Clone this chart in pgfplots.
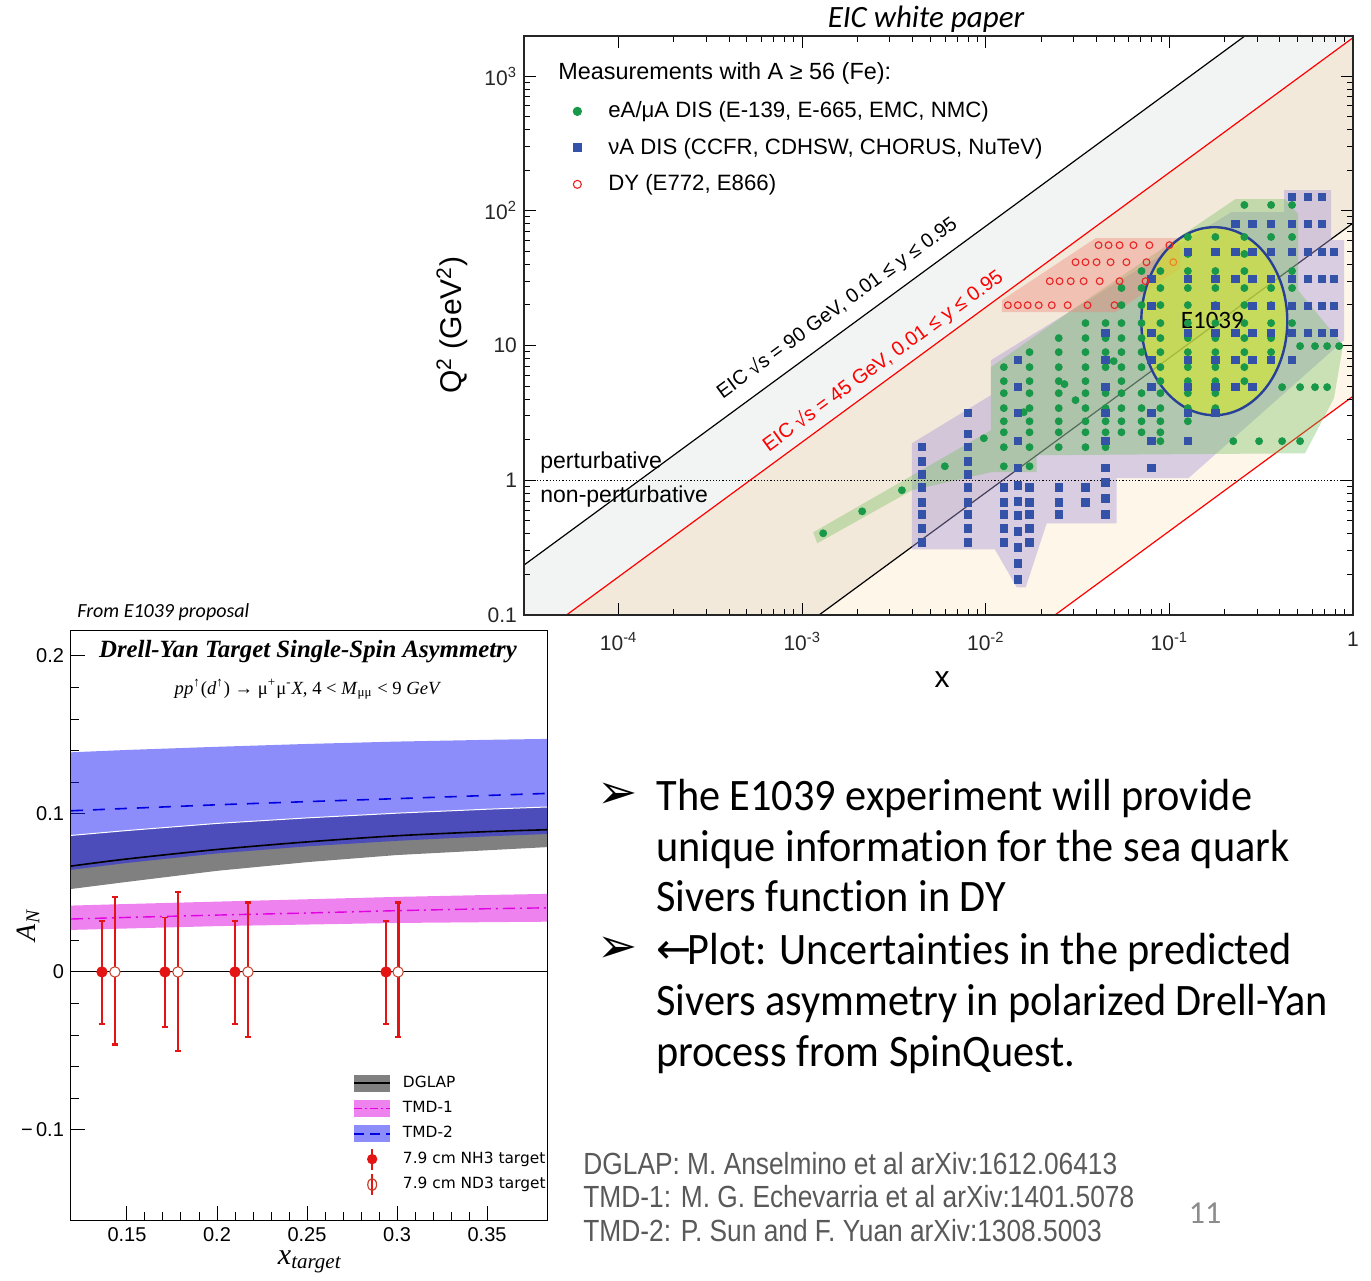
\documentclass[border=0pt]{standalone}
\usepackage{pgfplots}
\pgfplotsset{compat=1.18}
\usepackage{fontspec}
\setmainfont{Liberation Sans}
\newfontfamily\carlito{Carlito}
\newfontfamily\bodyfont[FakeStretch=0.94, Ligatures=NoCommon]{Carlito}
\newfontfamily\reffont[FakeStretch=0.86]{Liberation Sans}
\newfontfamily\serif{Liberation Serif}
\newfontfamily\dejavu{DejaVu Sans}
\newfontfamily\libsans{Liberation Sans}

\definecolor{bggray}{RGB}{242,244,243}
\definecolor{bgbeige}{RGB}{243,233,218}
\definecolor{bgcream}{RGB}{253,246,233}
\definecolor{ptgreen}{RGB}{24,152,72}
\definecolor{ptblue}{RGB}{52,82,168}
\definecolor{ptred}{RGB}{232,36,36}
\definecolor{ptorange}{RGB}{240,130,30}
\definecolor{hullgreen}{RGB}{110,190,90}
\definecolor{hullpurple}{RGB}{165,150,215}
\definecolor{hullred}{RGB}{240,130,120}
\definecolor{ellfill}{RGB}{212,230,40}
\definecolor{elledge}{RGB}{40,65,150}
\definecolor{dglapgray}{RGB}{128,128,128}
\definecolor{tmdtwo}{RGB}{25,25,245}
\definecolor{tmdtwolight}{RGB}{140,140,250}
\definecolor{tmdtwoline}{RGB}{0,0,225}
\definecolor{tmdonefill}{RGB}{238,130,238}
\definecolor{tmdoneline}{RGB}{225,0,225}
\definecolor{errred}{RGB}{228,20,20}
\definecolor{openred}{RGB}{200,60,40}
\definecolor{refgray}{RGB}{89,89,89}
\definecolor{pagegray}{RGB}{140,140,140}

\begin{document}
\begin{tikzpicture}
\useasboundingbox (0,0) rectangle (685.5pt,640pt);

% ================= TOP: x-Q2 coverage =================
\begin{axis}[
  at={(262pt,332.5pt)}, anchor=south west, scale only axis,
  width=414.5pt, height=289.5pt,
  xmode=log, ymode=log,
  xmin=3.05e-5, xmax=1, ymin=0.1, ymax=1982,
  xtick={1e-4,1e-3,1e-2,1e-1,1},
  xticklabels={10\textsuperscript{-4},10\textsuperscript{-3},10\textsuperscript{-2},10\textsuperscript{-1},1},
  ytick={0.1,1,10,100,1000},
  yticklabels={0.1,1,10,10\textsuperscript{2},10\textsuperscript{3}},
  /pgf/number format/assume math mode=true,
  tick label style={font=\fontsize{10.5}{12}\selectfont, text=black!85},
  xticklabel style={yshift=-5pt},
  major tick length=6pt, minor tick length=3pt,
  tick style={black, line width=0.5pt},
  axis line style={line width=0.7pt, black!85},
  axis on top,
  legend style={at={(0.047,0.9008)}, anchor=north west, draw=none, fill=none,
     font=\fontsize{11.1}{13}\selectfont, row sep=4.7pt,
     /tikz/every odd column/.append style={column sep=9.5pt}},
  legend cell align=left,
]
% kinematic bands
\addplot[draw=none, fill=bggray, forget plot] coordinates {(1e-5,0.07695) (3,23085) (3,1e-5) (1e-5,1e-5)};
\addplot[draw=none, fill=bgbeige, forget plot] coordinates {(1e-5,0.01924) (3,5772) (3,1e-5) (1e-5,1e-5)};
\addplot[draw=none, fill=bgcream, forget plot] coordinates {(1e-5,8.1e-4) (3,243) (3,1e-6) (1e-5,1e-6)};
\addplot[draw=none, fill=white, forget plot] coordinates {(1e-5,4.2e-5) (3,12.6) (3,1e-7) (1e-5,1e-7)};
% kinematic lines
\addplot[black, line width=0.6pt, forget plot] coordinates {(1e-5,0.07695) (3,23085)};
\addplot[red, line width=0.6pt, forget plot] coordinates {(1e-5,0.01924) (3,5772)};
\addplot[black, line width=0.6pt, forget plot] coordinates {(1e-5,8.1e-4) (3,243)};
\addplot[red, line width=0.6pt, forget plot] coordinates {(1e-5,4.2e-5) (3,12.6)};
% data hulls
\addplot[draw=none, fill=hullpurple, fill opacity=0.42, forget plot] coordinates {
 (3.96e-3,1.883) (3.96e-3,0.3075) (1.119e-2,0.3075) (1.474e-2,0.1606) (1.650e-2,0.1606)
 (2.145e-2,0.4796) (0.05152,0.4796) (0.05152,1.035) (0.1269,1.035) (0.8935,10.95)
 (0.8935,60.5) (0.7592,60.5) (0.7592,142.2) (0.4217,142.2) (0.4217,97.6) (0.2173,97.6)
 (1.065e-2,7.78) (1.065e-2,4.276)};
\addplot[draw=none, fill=hullgreen, fill opacity=0.36, forget plot] coordinates {
 (1.148e-3,0.411) (1.207e-3,0.3405) (3.96e-3,0.843) (1.065e-2,1.147) (1.893e-2,1.147)
 (1.893e-2,1.533) (0.548,1.586) (0.788,4.06) (0.882,10.05) (0.5026,25.7) (0.5026,94.4)
 (0.4270,121.9) (0.2285,121.9) (0.03324,20.6) (1.065e-2,6.90) (1.065e-2,2.35)};
\addplot[draw=none, fill=hullred, fill opacity=0.38, forget plot] coordinates {
 (1.222e-2,21.7) (1.222e-2,17.67) (0.05087,17.67) (0.1148,37.5) (0.1148,62.6) (0.03961,62.6)};
% Q2 = 1 line
\addplot[black, densely dotted, line width=0.6pt, forget plot] coordinates {(3.05e-5,1) (1,1)};
% eA / muA DIS
\addplot[only marks, mark=*, mark size=1.75pt, color=ptgreen, forget plot] coordinates {
 (1.30e-3,0.404) (2.12e-3,0.588) (3.49e-3,0.843) (5.98e-3,1.27) (9.75e-3,2.05)
 (0.01253,6.91) (0.01253,5.44) (0.01253,4.43) (0.01253,3.43) (0.01253,2.74) (0.01253,2.27) (0.01253,1.76) (0.01253,1.27)
 (0.0173,8.93) (0.0173,6.91) (0.0173,5.44) (0.0173,4.43) (0.0173,3.43) (0.0173,2.74) (0.0173,2.27) (0.0173,1.76) (0.0173,1.27)
 (0.02495,11.35) (0.02495,8.93) (0.02495,6.91) (0.02495,5.44) (0.02495,4.43) (0.02495,3.43) (0.02495,2.74) (0.02495,2.27) (0.02495,1.76)
 (0.0349,14.67) (0.0349,11.35) (0.0349,8.93) (0.0349,6.91) (0.0349,5.44) (0.0349,4.43) (0.0349,3.43) (0.0349,2.74) (0.0349,2.27) (0.0349,1.76)
 (0.0449,14.67) (0.0449,11.35) (0.0449,8.93) (0.0449,6.91) (0.0449,4.43) (0.0449,3.43) (0.0449,2.74) (0.0449,2.27) (0.0449,1.76)
 (0.0548,26.7) (0.0548,19.96) (0.0548,14.67) (0.0548,11.35) (0.0548,8.93) (0.0548,6.91) (0.0548,5.44) (0.0548,4.43) (0.0548,3.43) (0.0548,2.74) (0.0548,2.27)
 (0.0705,35.7) (0.0705,26.7) (0.0705,19.96) (0.0705,14.67) (0.0705,11.35) (0.0705,8.93) (0.0705,6.91) (0.0705,4.43) (0.0705,3.43) (0.0705,2.74) (0.0705,2.27)
 (0.0893,35.7) (0.0893,26.7) (0.0893,19.96) (0.0893,14.67) (0.0893,11.35) (0.0893,8.93) (0.0893,6.91) (0.0893,5.44) (0.0893,4.43) (0.0893,3.43) (0.0893,2.74) (0.0893,2.27) (0.0893,1.95)
 (0.126,63.9) (0.126,47.8) (0.126,35.7) (0.126,26.7) (0.126,19.96) (0.126,14.67) (0.126,11.35) (0.126,8.93) (0.126,6.91) (0.126,5.44) (0.126,4.43) (0.126,3.43) (0.126,2.74)
 (0.178,63.9) (0.178,35.7) (0.178,26.7) (0.178,19.96) (0.178,14.67) (0.178,11.35) (0.178,8.93) (0.178,6.91) (0.178,5.44) (0.178,4.43) (0.178,3.43)
 (0.256,110.4) (0.256,63.9) (0.256,47.8) (0.256,35.7) (0.256,26.7) (0.256,19.96) (0.256,14.67) (0.256,11.35) (0.256,8.93) (0.256,6.91) (0.256,5.44)
 (0.358,110.4) (0.358,63.9) (0.358,26.7) (0.358,19.96) (0.358,14.67) (0.358,11.35) (0.358,8.93)
 (0.4656,110.4) (0.4656,63.9) (0.4656,35.7) (0.4656,26.7) (0.4656,14.67)
 (0.515,9.90) (0.621,9.90) (0.723,9.90) (0.840,9.90) (0.411,4.91) (0.515,4.91) (0.621,4.91) (0.723,4.91)
 (0.2228,1.95) (0.308,1.95) (0.411,1.95) (0.515,1.95)
 (0.01609,3.20) (0.0268,5.17) (0.0308,3.93) (0.0497,7.66)};
% nu A DIS
\addplot[only marks, mark=square*, mark size=1.85pt, color=ptblue, forget plot] coordinates {
 (4.49e-3,1.76) (4.49e-3,1.384) (4.49e-3,1.108) (4.49e-3,0.887) (4.49e-3,0.686) (4.49e-3,0.559) (4.49e-3,0.440) (4.49e-3,0.346)
 (7.98e-3,3.15) (7.98e-3,2.20) (7.98e-3,1.76) (7.98e-3,1.384) (7.98e-3,1.108) (7.98e-3,0.887) (7.98e-3,0.686) (7.98e-3,0.559) (7.98e-3,0.440) (7.98e-3,0.346)
 (0.01253,0.887) (0.01253,0.686) (0.01253,0.559) (0.01253,0.440) (0.01253,0.346)
 (0.01493,7.79) (0.01493,4.91) (0.01493,3.15) (0.01493,1.95) (0.01493,1.23) (0.01493,0.918) (0.01493,0.698) (0.01493,0.55) (0.01493,0.418) (0.01493,0.318) (0.01493,0.2416) (0.01493,0.1838)
 (0.0173,0.887) (0.0173,0.686) (0.0173,0.559) (0.0173,0.440) (0.0173,0.346)
 (0.02495,0.887) (0.02495,0.686) (0.02495,0.559)
 (0.0349,0.887) (0.0349,0.686)
 (0.0449,12.36) (0.0449,7.79) (0.0449,4.91) (0.0449,3.15) (0.0449,1.95) (0.0449,1.23) (0.0449,0.966) (0.0449,0.735) (0.0449,0.559)
 (0.0798,31.1) (0.0798,19.6) (0.0798,12.36) (0.0798,7.79) (0.0798,4.91) (0.0798,3.15) (0.0798,1.95) (0.0798,1.23)
 (0.126,49.4) (0.126,31.1) (0.126,12.36) (0.126,7.79) (0.126,4.91) (0.126,3.15) (0.126,1.95)
 (0.178,49.4) (0.178,31.1) (0.178,19.6) (0.178,12.36) (0.178,7.79) (0.178,4.91) (0.178,3.15)
 (0.2286,79.8) (0.2286,49.4) (0.2286,31.1) (0.2286,12.36) (0.2286,7.79) (0.2286,4.91)
 (0.2825,79.8) (0.2825,49.4) (0.2825,31.1) (0.2825,19.6) (0.2825,12.36) (0.2825,7.79) (0.2825,4.91)
 (0.358,79.8) (0.358,49.4) (0.358,31.1) (0.358,19.6) (0.358,12.36) (0.358,7.79)
 (0.4656,126.7) (0.4656,79.8) (0.4656,49.4) (0.4656,31.1) (0.4656,19.6) (0.4656,12.36) (0.4656,7.79)
 (0.569,126.7) (0.569,79.8) (0.569,49.4) (0.569,31.1) (0.569,19.6) (0.569,12.36)
 (0.679,126.7) (0.679,79.8) (0.679,49.4) (0.679,31.1) (0.679,19.6) (0.679,12.36)
 (0.789,49.4) (0.789,31.1) (0.789,19.6) (0.789,12.36)};
% DY
\addplot[only marks, mark=o, mark size=1.7pt, color=ptred, line width=0.55pt, forget plot] coordinates {
 (0.0411,55.55) (0.0466,55.55) (0.0535,55.55) (0.0637,55.55) (0.0778,55.55) (0.1,55.55)
 (0.0308,41.53) (0.0349,41.53) (0.0401,41.53) (0.0478,41.53) (0.0583,41.53) (0.0750,41.53)
 (0.0223,30.02) (0.0252,30.02) (0.0290,30.02) (0.0341,30.02) (0.0417,30.02) (0.0535,30.02) (0.0741,30.02)
 (0.01318,19.92) (0.01493,19.92) (0.01690,19.92) (0.01941,19.92) (0.02286,19.92) (0.0279,19.92) (0.0358,19.92) (0.0502,19.92)};
\addplot[only marks, mark=o, mark size=1.7pt, color=ptorange, line width=0.55pt, forget plot] coordinates {(0.105,41.53)};
% E1039 ellipse
\draw[elledge, line width=1.2pt, fill=ellfill, fill opacity=0.62] (axis cs:0.1756,15.15) ellipse [x radius=36.5pt, y radius=47pt];
\node[font=\carlito\fontsize{12.5}{14}\selectfont] at (axis cs:0.1713,15.44) {E1039};
% line labels
\node[rotate=36.2, font=\fontsize{10}{12}\selectfont] at (axis cs:1.549e-3,18.92) {EIC √s = 90 GeV, 0.01 ≤ y ≤ 0.95};
\node[rotate=36.2, text=red, font=\fontsize{10}{12}\selectfont] at (axis cs:2.756e-3,7.65) {EIC √s = 45 GeV, 0.01 ≤ y ≤ 0.95};
% legend
\addlegendimage{legend image code/.code={\draw[only marks, mark=*, mark size=2.1pt, color=ptgreen] plot coordinates {(4pt,0pt)}; \path[draw=none, fill=none] (0pt,-3pt) rectangle (8pt,3pt);}}
\addlegendentry{eA/μA DIS (E-139, E-665, EMC, NMC)}
\addlegendimage{legend image code/.code={\draw[only marks, mark=square*, mark size=2pt, color=ptblue] plot coordinates {(4pt,0pt)}; \path[draw=none, fill=none] (0pt,-3pt) rectangle (8pt,3pt);}}
\addlegendentry{νA DIS (CCFR, CDHSW, CHORUS, NuTeV)}
\addlegendimage{legend image code/.code={\draw[only marks, mark=o, mark size=2pt, line width=0.55pt, color=ptred] plot coordinates {(4pt,0pt)}; \path[draw=none, fill=none] (0pt,-3pt) rectangle (8pt,3pt);}}
\addlegendentry{DY (E772, E866)}
\end{axis}

% ================= BOTTOM: Sivers asymmetry =================
\begin{axis}[
  at={(35.5pt,30pt)}, anchor=south west, scale only axis,
  width=238pt, height=294.5pt,
  xmin=0.1189, xmax=0.3833, ymin=-0.157, ymax=0.2158,
  xtick={0.15,0.2,0.25,0.3,0.35}, xticklabels={0.15,0.2,0.25,0.3,0.35},
  ytick={-0.1,0,0.1,0.2}, yticklabels={−\,0.1,0,0.1,0.2},
  minor x tick num=4, minor y tick num=4,
  tick pos=left,
  major tick length=7pt, minor tick length=4pt,
  tick style={black, line width=0.5pt},
  axis line style={line width=0.5pt},
  /pgf/number format/assume math mode=true,
  tick label style={font=\fontsize{10}{12}\selectfont},
  legend style={at={(0.5798,0.259)}, anchor=north west, draw=none, fill=none,
     font=\dejavu\fontsize{7.7}{9}\selectfont, row sep=1.5pt,
     /tikz/every odd column/.append style={column sep=4pt}},
  legend cell align=left,
]
% DGLAP band
\addplot[draw=none, fill=dglapgray, forget plot] coordinates {
 (0.1189,0.0864) (0.15,0.0895) (0.2,0.094) (0.25,0.0975) (0.3,0.1005) (0.35,0.103) (0.3833,0.1044)
 (0.3833,0.079) (0.35,0.077) (0.3,0.074) (0.25,0.0695) (0.2,0.064) (0.15,0.057) (0.1189,0.0525)};
% TMD-2 band
\addplot[draw=none, fill=tmdtwo, fill opacity=0.5, forget plot] coordinates {
 (0.1189,0.139) (0.15,0.1405) (0.2,0.1425) (0.25,0.1443) (0.3,0.1458) (0.35,0.1469) (0.3833,0.1475)
 (0.3833,0.0873) (0.35,0.0858) (0.3,0.083) (0.25,0.0795) (0.2,0.075) (0.15,0.069) (0.1189,0.0646)};
\addplot[white, line width=0.5pt, forget plot] coordinates {
 (0.1189,0.0864) (0.15,0.0895) (0.2,0.094) (0.25,0.0975) (0.3,0.1005) (0.35,0.103) (0.3833,0.1044)};
% TMD-1 band
\addplot[draw=none, fill=tmdonefill, forget plot] coordinates {
 (0.1189,0.042) (0.15,0.043) (0.2,0.0445) (0.25,0.046) (0.3,0.0475) (0.35,0.0487) (0.3833,0.0494)
 (0.3833,0.0318) (0.35,0.0315) (0.3,0.031) (0.25,0.030) (0.2,0.029) (0.15,0.0275) (0.1189,0.0266)};
% central curves
\addplot[black, line width=0.8pt, smooth, forget plot] coordinates {
 (0.1189,0.067) (0.15,0.0715) (0.2,0.0775) (0.25,0.0823) (0.3,0.0862) (0.35,0.0888) (0.3833,0.090)};
\addplot[tmdtwoline, line width=0.8pt, dash pattern=on 6pt off 5pt, forget plot] coordinates {
 (0.1189,0.102) (0.15,0.1035) (0.2,0.1058) (0.25,0.1078) (0.3,0.1097) (0.35,0.1117) (0.3833,0.113)};
\addplot[tmdoneline, line width=0.7pt, dash pattern=on 6pt off 2.5pt on 1pt off 2.5pt, forget plot] coordinates {
 (0.1189,0.0335) (0.15,0.0345) (0.2,0.036) (0.25,0.0373) (0.3,0.0388) (0.35,0.0400) (0.3833,0.0406)};
% zero line
\addplot[black, line width=0.5pt, forget plot] coordinates {(0.1189,0) (0.3833,0)};
% NH3 projections
\addplot[only marks, mark=*, mark size=2.6pt, color=errred, forget plot,
  error bars/.cd, y dir=both, y explicit,
  error bar style={line width=0.9pt, errred},
  error mark options={rotate=90, mark size=1.4pt, line width=0.9pt, errred}] coordinates {
 (0.1361,0) += (0,0.032) -= (0,0.033)
 (0.1711,0) += (0,0.0345) -= (0,0.035)
 (0.2100,0) += (0,0.032) -= (0,0.033)
 (0.2939,0) += (0,0.032) -= (0,0.033)};
% ND3 projections
\addplot[only marks, mark=*, mark size=2.6pt, color=errred, mark options={fill=white, draw=openred, line width=0.5pt}, forget plot,
  error bars/.cd, y dir=both, y explicit,
  error bar style={line width=1.4pt, errred},
  error mark options={rotate=90, mark size=1.4pt, line width=1.2pt, errred}] coordinates {
 (0.1433,0) += (0,0.0475) -= (0,0.046)
 (0.1783,0) += (0,0.0506) -= (0,0.050)
 (0.2172,0) += (0,0.044) -= (0,0.041)
 (0.3006,0) += (0,0.044) -= (0,0.041)};
% legend
\addlegendimage{legend image code/.code={\fill[dglapgray, draw=none] (0pt,-4.25pt) rectangle (18pt,4.25pt); \draw[black, line width=0.8pt] (0pt,0pt) -- (18pt,0pt);}}
\addlegendentry{DGLAP}
\addlegendimage{legend image code/.code={\fill[tmdonefill, draw=none] (0pt,-4.25pt) rectangle (18pt,4.25pt); \draw[tmdoneline, line width=0.7pt, dash pattern=on 4pt off 1.5pt on 1pt off 1.5pt] (0pt,0pt) -- (18pt,0pt);}}
\addlegendentry{TMD-1}
\addlegendimage{legend image code/.code={\fill[tmdtwolight, draw=none] (0pt,-4.25pt) rectangle (18pt,4.25pt); \draw[tmdtwoline, line width=0.8pt, dash pattern=on 5pt off 3pt] (0pt,0pt) -- (18pt,0pt);}}
\addlegendentry{TMD-2}
\addlegendimage{legend image code/.code={\draw[overlay, errred, line width=1pt] (9pt,-5.2pt) -- (9pt,5.2pt); \fill[errred, draw=none] (9pt,0pt) circle (2.6pt); \path[draw=none, fill=none] (0pt,-4.25pt) rectangle (18pt,4.25pt);}}
\addlegendentry{7.9 cm NH3 target}
\addlegendimage{legend image code/.code={\draw[overlay, errred, line width=1pt] (9pt,-5.2pt) -- (9pt,5.2pt); \draw[openred, fill=none, line width=0.6pt] (9pt,0pt) ellipse [x radius=2.2pt, y radius=3pt]; \path[draw=none, fill=none] (0pt,-4.25pt) rectangle (18pt,4.25pt);}}
\addlegendentry{7.9 cm ND3 target}
\end{axis}

% ================= free text (pixel coordinates) =================
\begin{scope}[x=0.5pt, y=-0.5pt, shift={(0pt,640pt)}]
\node[font=\carlito\itshape\fontsize{15.5}{17}\selectfont] at (926,19) {EIC white paper};
\node[anchor=west, inner xsep=0pt, font=\fontsize{11.7}{13}\selectfont] at (558,73) {Measurements with A ≥ 56 (Fe):};
\node[rotate=90, font=\fontsize{15}{17}\selectfont] at (452,325) {Q\textsuperscript{2} (GeV\textsuperscript{2})};
\node[font=\fontsize{15}{17}\selectfont] at (942,680) {x};
\node[anchor=west, inner xsep=0pt, font=\fontsize{11.5}{13}\selectfont] at (540,463) {perturbative};
\node[anchor=west, inner xsep=0pt, font=\fontsize{11.5}{13}\selectfont] at (540,497) {non-perturbative};
\node[anchor=west, inner xsep=0pt, font=\carlito\itshape\fontsize{10}{12}\selectfont] at (77,612) {From E1039 proposal};
\node[font=\serif\bfseries\itshape\fontsize{12.4}{14}\selectfont] at (308,652) {Drell-Yan Target Single-Spin Asymmetry};
\node[font=\serif\fontsize{9.3}{11}\selectfont] at (308,689) {\textit{pp}\textsuperscript{↑}(\textit{d}\textsuperscript{↑}) → μ\textsuperscript{+}μ\textsuperscript{-}\textit{X}, 4 < \textit{M}\textsubscript{μμ} < 9 \textit{GeV}};
\node[rotate=90, font=\serif\fontsize{14}{16}\selectfont] at (28,925) {\textit{A}\textsubscript{\textit{N}}};
\node[font=\serif\fontsize{15}{17}\selectfont] at (310,1262) {\textit{x}\textsubscript{\textit{target}}};
% bullets
\node[anchor=base west, inner xsep=0pt, font=\dejavu\fontsize{24}{28}\selectfont] at (597,809) {➢};
\node[anchor=base west, inner xsep=0pt, font=\dejavu\fontsize{24}{28}\selectfont] at (597,963) {➢};
\begin{scope}[every node/.style={anchor=base west, inner xsep=0pt, font=\bodyfont\fontsize{22.5}{26}\selectfont}]
\node at (656,811) {The E1039 experiment will provide};
\node at (656,862) {unique information for the sea quark};
\node at (656,912) {Sivers function in DY};
\node at (656,965) {\raisebox{0.5pt}{\dejavu\fontsize{21}{24}\selectfont ←}\kern-2pt Plot: Uncertainties in the predicted};
\node at (656,1016) {Sivers asymmetry in polarized Drell-Yan};
\node at (656,1067) {process from SpinQuest.};
\end{scope}
\begin{scope}[every node/.style={anchor=base west, inner xsep=0pt, text=refgray, font=\reffont\fontsize{15.3}{17}\selectfont}]
\node at (583,1175) {DGLAP: M. Anselmino et al arXiv:1612.06413};
\node at (583,1208) {TMD-1: M. G. Echevarria et al arXiv:1401.5078};
\node at (583,1241) {TMD-2: P. Sun and F. Yuan arXiv:1308.5003};
\end{scope}
\node[text=pagegray, font=\carlito\fontsize{16}{18}\selectfont] at (1205,1213) {11};
\end{scope}
\end{tikzpicture}
\end{document}
